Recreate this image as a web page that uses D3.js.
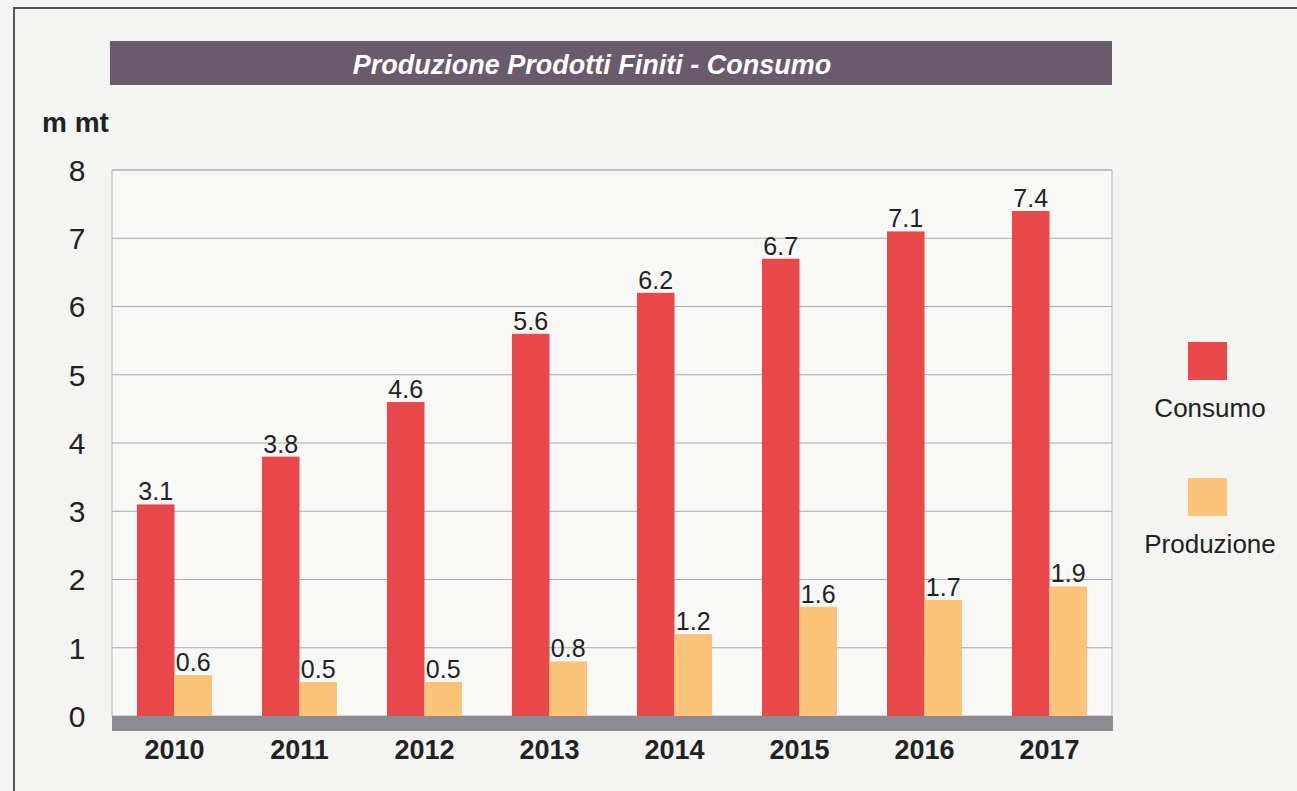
<!DOCTYPE html>
<html>
<head>
<meta charset="utf-8">
<script src="https://cdn.jsdelivr.net/npm/d3@7"></script>
<style>
  html, body { margin: 0; padding: 0; background: #f3f3f2; }
  svg { display: block; font-family: "Liberation Sans", Arial, sans-serif; }
</style>
</head>
<body>
<div id="chart"></div>
<script>
// data
const years = ['2010', '2011', '2012', '2013', '2014', '2015', '2016', '2017'];
const consumo = [3.1, 3.8, 4.6, 5.6, 6.2, 6.7, 7.1, 7.4];
const produzione = [0.6, 0.5, 0.5, 0.8, 1.2, 1.6, 1.7, 1.9];
const yTicks = [0, 1, 2, 3, 4, 5, 6, 7, 8];
const seriesNames = ['Consumo', 'Produzione'];

const width = 1297, height = 791;
const plot = { left: 112, right: 1112, top: 170, bottom: 716 };
const colors = { Consumo: '#e9484b', Produzione: '#fcc47a' };

const svg = d3.select('#chart')
  .append('svg')
  .attr('width', width)
  .attr('height', height);

// paper background + scan frame
svg.append('rect').attr('width', width).attr('height', height).attr('fill', '#f4f4f3');
svg.append('path')
  .attr('d', `M14,${height} L14,8 L${width},8`)
  .attr('fill', 'none')
  .attr('stroke', '#555')
  .attr('stroke-width', 2);

// title bar
svg.append('rect')
  .attr('x', 110).attr('y', 41)
  .attr('width', 1002).attr('height', 44)
  .attr('fill', '#6a5b6c');
svg.append('text')
  .attr('x', 592).attr('y', 74)
  .attr('text-anchor', 'middle')
  .attr('fill', '#fff')
  .style('font-size', '27px')
  .style('font-weight', 'bold')
  .style('font-style', 'italic')
  .text('Produzione Prodotti Finiti - Consumo');

// unit label
svg.append('text')
  .attr('x', 42).attr('y', 132)
  .attr('fill', '#222')
  .style('font-size', '28px')
  .style('font-weight', 'bold')
  .text('m mt');

// scales
const x = d3.scaleBand()
  .domain(years)
  .range([plot.left, plot.right])
  .paddingInner(0.4)
  .paddingOuter(0.2);

const xInner = d3.scaleBand()
  .domain(seriesNames)
  .range([0, x.bandwidth()]);

const y = d3.scaleLinear()
  .domain([0, 8])
  .range([plot.bottom, plot.top]);

// plot area
const g = svg.append('g');
g.append('rect')
  .attr('x', plot.left).attr('y', plot.top)
  .attr('width', plot.right - plot.left)
  .attr('height', plot.bottom - plot.top)
  .attr('fill', '#f8f8f7')
  .attr('stroke', '#b5b5b5');

// gridlines
g.selectAll('line.grid')
  .data(yTicks.filter(d => d > 0))
  .enter()
  .append('line')
  .attr('class', 'grid')
  .attr('x1', plot.left).attr('x2', plot.right)
  .attr('y1', d => y(d)).attr('y2', d => y(d))
  .attr('stroke', '#aaa')
  .attr('stroke-width', 1);

// y tick labels
g.selectAll('text.ytick')
  .data(yTicks)
  .enter()
  .append('text')
  .attr('class', 'ytick')
  .attr('x', 77)
  .attr('y', d => y(d))
  .attr('dy', '0.36em')
  .attr('text-anchor', 'middle')
  .attr('fill', '#222')
  .style('font-size', '30px')
  .text(d => d);

// bars
const rows = years.map((yr, i) => ({
  year: yr,
  values: [
    { key: 'Consumo', value: consumo[i] },
    { key: 'Produzione', value: produzione[i] }
  ]
}));

const groups = g.selectAll('g.year')
  .data(rows)
  .enter()
  .append('g')
  .attr('class', 'year')
  .attr('transform', d => `translate(${x(d.year)},0)`);

groups.selectAll('rect')
  .data(d => d.values)
  .enter()
  .append('rect')
  .attr('x', d => xInner(d.key))
  .attr('y', d => y(d.value))
  .attr('width', xInner.bandwidth())
  .attr('height', d => y(0) - y(d.value))
  .attr('fill', d => colors[d.key]);

groups.selectAll('text')
  .data(d => d.values)
  .enter()
  .append('text')
  .attr('x', d => xInner(d.key) + xInner.bandwidth() / 2)
  .attr('y', d => y(d.value) - 4)
  .attr('text-anchor', 'middle')
  .attr('fill', '#222')
  .style('font-size', '25px')
  .text(d => d.value.toFixed(1));

// base band
g.append('rect')
  .attr('x', plot.left).attr('y', plot.bottom)
  .attr('width', plot.right - plot.left + 1)
  .attr('height', 15)
  .attr('fill', '#8e8a94');

// x labels
g.selectAll('text.xlab')
  .data(years)
  .enter()
  .append('text')
  .attr('class', 'xlab')
  .attr('x', d => x(d) + x.bandwidth() / 2)
  .attr('y', 759)
  .attr('text-anchor', 'middle')
  .attr('fill', '#222')
  .style('font-size', '27px')
  .style('font-weight', 'bold')
  .text(d => d);

// legend
const legend = svg.append('g');
const legendY = [342, 478];
seriesNames.forEach((name, i) => {
  legend.append('rect')
    .attr('x', 1188).attr('y', legendY[i])
    .attr('width', 39).attr('height', 38)
    .attr('fill', colors[name]);
  legend.append('text')
    .attr('x', 1210).attr('y', legendY[i] + 75)
    .attr('text-anchor', 'middle')
    .attr('fill', '#222')
    .style('font-size', '26px')
    .text(name);
});
</script>
</body>
</html>
